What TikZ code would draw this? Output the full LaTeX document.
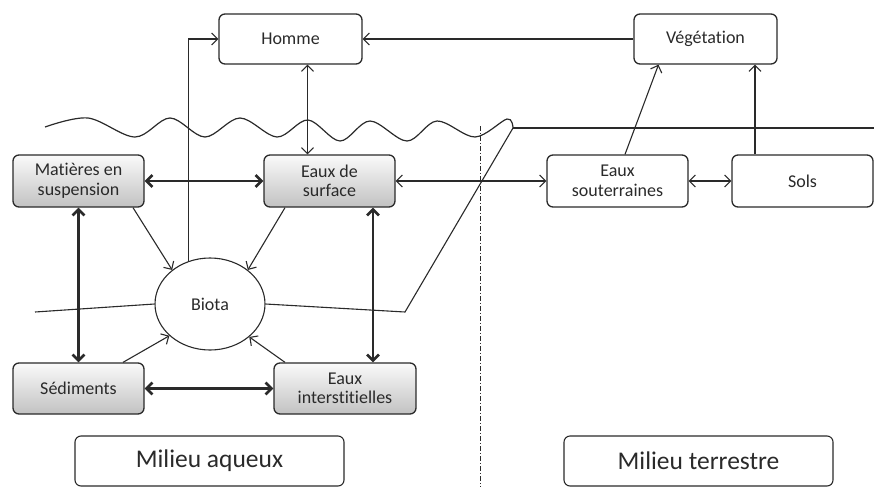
\documentclass[tikz,border=0pt]{standalone}
\usepackage{fontspec}
\setmainfont[RawFeature=-liga]{Carlito}
\usetikzlibrary{arrows.meta,shapes.geometric,calc}
\definecolor{ink}{HTML}{2A2A2A}
\tikzset{
  box/.style={draw=ink, line width=1.3pt, rounded corners=6pt, align=center,
    text=ink, font=\fontsize{18}{19.5}\selectfont, inner sep=2pt},
  gbox/.style={box, top color=gray!4, bottom color=gray!48},
  bigbox/.style={draw=ink, line width=1.1pt, rounded corners=6pt,
    text=ink, font=\fontsize{25.5}{28}\selectfont, minimum width=269pt, minimum height=50pt},
  thin/.style={draw=ink, line width=1.1pt},
  thick/.style={draw=ink, line width=2.6pt},
  ar/.style={thin, -{Straight Barb[length=6pt,width=12pt]}},
  arr/.style={thin, {Straight Barb[length=6pt,width=12pt]}-{Straight Barb[length=6pt,width=12pt]}},
  tarr/.style={thick, {Straight Barb[length=6pt,width=12pt]}-{Straight Barb[length=6pt,width=12pt]}},
}
\begin{document}
\begin{tikzpicture}[x=1pt,y=-1pt]
\useasboundingbox (0,0) rectangle (874,487);
% nodes
\node[box, minimum width=143pt, minimum height=50pt] (homme) at (290.5,39) {Homme};
\node[box, minimum width=143pt, minimum height=50pt] (veg) at (705.5,39) {Végétation};
\node[gbox, minimum width=131pt, minimum height=52pt] (mat) at (78.5,181) {Matières en\\suspension};
\node[gbox, minimum width=131pt, minimum height=52pt] (esurf) at (329.5,181) {Eaux de\\surface};
\node[box, minimum width=141pt, minimum height=52pt] (esout) at (617.5,181) {Eaux\\souterraines};
\node[box, minimum width=141pt, minimum height=52pt] (sols) at (802.5,181) {Sols};
\node[ellipse, draw=ink, line width=1.1pt, text=ink, font=\fontsize{18}{19.5}\selectfont,
      minimum width=110pt, minimum height=92pt, inner sep=0pt] (biota) at (210,304) {Biota};
\node[gbox, minimum width=131pt, minimum height=51pt] (sed) at (78.5,388.5) {Sédiments};
\node[gbox, minimum width=142pt, minimum height=51pt] (einter) at (345,388.5) {Eaux\\interstitielles};
\node[bigbox] (maq) at (209.5,461) {Milieu aqueux};
\node[bigbox] (mter) at (698.5,461) {Milieu terrestre};

% boundary lines
\draw[thin, line width=1.2pt] plot[smooth, tension=0.55] coordinates {
  (45,127) (88,118) (135,137) (170,118) (205,137) (240,118) (277,137)
  (308,120) (340,141) (370,121) (407,141) (437,121) (475,137) (507,119) (513,128)};
\draw[thin] (513,128) -- (874,128);
\draw[thin] (513,128) -- (405,312) -- (biota.east);
\draw[thin] (35,312) -- (biota.west);
\draw[ink, line width=1pt, dash pattern=on 5pt off 2pt on 1pt off 2pt] (480,126) -- (480,487);

% connectors
\draw[arr] ([xshift=17pt]homme.south) -- ([xshift=17pt]homme.south |- esurf.north);
\draw[tarr] (mat.east) -- (esurf.west);
\draw[arr] (esurf.east) -- (esout.west);
\draw[arr] (esout.east) -- (sols.west);
\draw[ar] ([xshift=7.5pt]esout.north) -- ([xshift=-47pt]veg.south);
\draw[ar] ([xshift=-47.5pt]sols.north) -- ([xshift=-47.5pt]sols.north |- veg.south);
\draw[ar] (veg.west) -- (homme.east);
\draw[ar] (biota.117) |- (homme.west);
\draw[ar] ([xshift=54.5pt]mat.south) -- (biota.138);
\draw[ar] ([xshift=-44.5pt]esurf.south) -- (biota.42);
\draw[ar] ([xshift=44.5pt]sed.north) -- (biota.218);
\draw[ar] ([xshift=-60pt]einter.north) -- (biota.320);
\draw[tarr] (mat.south) -- (sed.north);
\draw[tarr] ([xshift=43.5pt]esurf.south) -- ([xshift=43.5pt]esurf.south |- einter.north);
\draw[tarr] (sed.east) -- (einter.west);
\end{tikzpicture}
\end{document}
